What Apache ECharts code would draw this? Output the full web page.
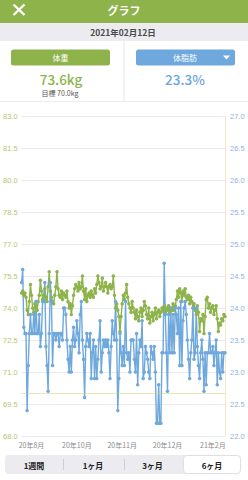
<!DOCTYPE html>
<html><head><meta charset="utf-8">
<script src="https://cdn.jsdelivr.net/npm/echarts@6/dist/echarts.min.js"></script>
<style>html,body{margin:0;padding:0;background:#fff;}#c{width:248px;height:480px;}</style>
</head><body><div id="c"></div>
<script>
// ---- data ----
const weightKg = [
74.7,74.8,74.6,74.7,74.5,73.9,73.7,74.3,75.1,74.6,
74.0,73.8,74.2,74.1,73.9,74.3,74.6,75.3,74.8,74.4,
74.6,74.9,74.5,74.3,75.0,75.7,74.8,74.5,74.3,74.2,
74.6,75.0,75.7,74.9,74.6,74.5,74.8,74.4,74.7,74.6,
74.5,74.8,74.3,74.0,74.2,73.7,74.1,74.6,74.9,75.1,
75.0,74.8,75.2,74.9,75.0,75.5,74.8,74.4,74.9,74.3,
74.6,74.7,74.5,74.8,74.6,74.5,74.9,74.7,75.1,75.5,
75.2,74.9,75.0,75.4,74.8,75.0,75.2,75.0,74.7,75.0,
75.1,74.9,75.0,75.5,74.6,74.0,74.2,73.9,73.6,72.9,
73.6,74.2,74.6,74.4,74.7,75.1,74.5,74.2,74.0,73.8,
74.3,74.0,73.8,73.5,73.9,73.6,73.4,73.8,74.0,73.6,
73.9,74.3,74.1,73.7,73.5,74.0,73.3,73.6,73.8,73.4,
73.7,74.0,73.5,73.8,73.9,73.6,73.8,74.0,73.9,74.1,
73.8,74.0,73.9,74.1,73.8,74.0,73.9,74.2,73.9,74.1,
74.4,74.8,74.5,74.9,74.7,74.3,74.8,74.6,74.9,74.5,
74.4,74.6,74.2,74.5,74.3,74.0,74.2,73.9,73.7,74.1,
73.8,72.9,73.5,73.4,73.7,72.8,73.6,74.4,74.5,74.0,
74.2,73.8,74.0,74.1,73.7,73.9,74.1,73.5,72.9,73.3,
73.2,73.5,73.4,73.7,73.6];
const bodyFatPct = [
24.4,24.6,23.7,23.6,23.6,22.4,23.1,23.6,23.9,23.6,
23.6,23.9,23.6,24.1,23.6,23.6,23.9,23.4,23.6,24.1,
24.1,24.4,23.4,23.1,22.7,23.6,24.4,24.1,23.1,23.6,
23.6,23.5,23.6,23.6,23.4,23.6,23.6,23.5,24.0,24.0,
23.9,23.5,23.2,23.0,23.4,23.0,23.5,23.7,23.4,23.5,
23.8,23.6,23.3,23.9,24.1,23.5,23.2,22.6,23.4,23.6,
23.5,23.4,23.6,22.9,23.3,23.5,22.9,23.4,22.9,23.2,
23.5,23.8,23.0,23.3,23.5,23.4,23.5,23.4,23.5,23.3,
22.9,23.4,23.8,23.6,23.5,24.1,23.5,22.4,22.9,23.6,
23.3,23.1,23.4,23.1,24.1,23.3,23.2,23.3,23.0,23.5,
23.5,23.5,23.2,23.0,23.6,22.8,23.3,23.5,23.4,23.8,
22.9,23.0,23.4,23.3,23.2,23.0,22.9,23.4,23.3,23.2,
23.4,23.0,22.2,22.2,22.8,22.2,22.2,23.3,23.3,24.7,
23.9,23.3,22.7,23.9,23.3,24.0,23.3,23.9,23.3,24.0,
23.9,23.6,24.0,23.1,24.1,23.1,23.8,24.0,24.1,23.9,
23.5,23.2,22.9,23.3,23.5,24.0,23.2,23.3,24.0,23.4,
23.1,22.9,23.3,23.5,23.2,22.7,23.3,22.8,23.3,23.3,
23.6,23.3,23.3,23.4,23.1,23.3,23.5,22.8,23.3,23.0,
22.9,23.3,23.0,23.3,23.3];
const xTickIndex = [9, 50, 91, 132, 173];
const xTickLabels = ['20年8月', '20年10月', '20年11月', '20年12月', '21年2月'];
const weightAxis = {min: 68.0, max: 83.0, step: 1.5};
const fatAxis = {min: 22.0, max: 27.0, step: 0.5};
const goalWeight = 70.0;
const dateText = '2021年02月12日';
const latestWeight = '73.6kg';
const goalText = '目標 70.0kg';
const latestFat = '23.3%';
const rangeButtons = ['1週間', '1ヶ月', '3ヶ月', '6ヶ月'];

// ---- chart ----
const GREEN = '#8db34a', BLUE = '#6ea8dc';
const FONT = '"Noto Sans CJK JP", "Noto Sans", sans-serif';
const days = weightKg.map((_, i) => String(i));
const chart = echarts.init(document.getElementById('c'), null, {renderer: 'svg'});

const txt = (x, y, s, size, fill, weight) => ({
  type: 'text', x: x, y: y, silent: true,
  style: {text: s, fontSize: size, fill: fill, fontFamily: FONT, fontWeight: weight || 'normal', textAlign: 'center', textVerticalAlign: 'middle'}
});
const btnCenters = [34, 93, 152.5, 212];

const graphic = [
  {type: 'rect', shape: {x: 0, y: 0, width: 248, height: 23}, style: {fill: GREEN}},
  {type: 'line', shape: {x1: 13.5, y1: 4.5, x2: 24.5, y2: 15}, style: {stroke: '#fff', lineWidth: 2.4}},
  {type: 'line', shape: {x1: 24.5, y1: 4.5, x2: 13.5, y2: 15}, style: {stroke: '#fff', lineWidth: 2.4}},
  txt(124, 10, 'グラフ', 11, '#fff', 'bold'),
  {type: 'rect', shape: {x: 0, y: 23, width: 248, height: 18}, style: {fill: '#ebebf0'}},
  txt(123, 32, dateText, 8.5, '#4a4a4a', 'bold'),
  {type: 'line', shape: {x1: 124, y1: 41, x2: 124, y2: 101}, style: {stroke: '#e6e6e6', lineWidth: 1}},
  {type: 'line', shape: {x1: 0, y1: 101.5, x2: 248, y2: 101.5}, style: {stroke: '#ececec', lineWidth: 1}},
  {type: 'rect', shape: {x: 11, y: 49.5, width: 99, height: 16, r: 2.5}, style: {fill: GREEN}},
  txt(60.5, 57.5, '体重', 8, '#fff'),
  txt(61, 79, latestWeight, 13.5, GREEN, 500),
  txt(60, 92.5, goalText, 7, '#555'),
  {type: 'rect', shape: {x: 136, y: 49.5, width: 99, height: 16, r: 2.5}, style: {fill: BLUE}},
  txt(185, 57.5, '体脂肪', 8, '#fff'),
  {type: 'polygon', shape: {points: [[223, 55.5], [230, 55.5], [226.5, 59.5]]}, style: {fill: '#fff'}},
  txt(185, 79, latestFat, 13.5, BLUE, 500),
  {type: 'rect', shape: {x: 5, y: 455, width: 236, height: 19, r: 4}, style: {fill: '#ececf0'}},
  {type: 'rect', shape: {x: 184, y: 456, width: 56, height: 17, r: 4}, style: {fill: '#fff', shadowBlur: 2, shadowColor: 'rgba(0,0,0,0.15)'}},
  {type: 'line', shape: {x1: 63.5, y1: 459, x2: 63.5, y2: 470}, style: {stroke: '#cfcfd4', lineWidth: 1}},
  {type: 'line', shape: {x1: 124.5, y1: 459, x2: 124.5, y2: 470}, style: {stroke: '#cfcfd4', lineWidth: 1}}
].concat(rangeButtons.map((b, i) => txt(btnCenters[i], 465, b, 8, '#222', 'bold')));

chart.setOption({
  animation: false,
  backgroundColor: '#fff',
  textStyle: {fontFamily: FONT},
  grid: {left: 20, right: 23, top: 116, bottom: 44},
  xAxis: {
    type: 'category', boundaryGap: false, data: days,
    axisLine: {show: false}, axisTick: {show: false}, splitLine: {show: false},
    axisLabel: {
      interval: (i) => xTickIndex.indexOf(i) >= 0,
      formatter: (v, i) => xTickLabels[xTickIndex.indexOf(Number(v))] || '',
      fontSize: 7, color: '#8a8a8a', margin: 5, fontFamily: FONT
    }
  },
  yAxis: [
    {type: 'value', position: 'left', min: weightAxis.min, max: weightAxis.max, interval: weightAxis.step,
     axisLine: {show: false}, axisTick: {show: false},
     splitLine: {show: true, lineStyle: {color: '#e7eaf0', width: 1}},
     axisLabel: {formatter: (v) => v.toFixed(1), fontSize: 7.5, color: '#b9c46c', margin: 4, fontFamily: 'Liberation Sans, sans-serif'}},
    {type: 'value', position: 'right', min: fatAxis.min, max: fatAxis.max, interval: fatAxis.step,
     axisLine: {show: true, lineStyle: {color: '#f6e7cb', width: 1}}, axisTick: {show: false},
     splitLine: {show: false},
     axisLabel: {formatter: (v) => v.toFixed(1), fontSize: 7.5, color: '#8db6dc', margin: 5, fontFamily: 'Liberation Sans, sans-serif'}}
  ],
  series: [
    {type: 'line', name: '体重', yAxisIndex: 0, data: weightKg, symbol: 'circle', symbolSize: 3.5, showSymbol: true, showAllSymbol: true,
     lineStyle: {color: GREEN, width: 1.4}, itemStyle: {color: GREEN},
     markLine: {silent: true, symbol: 'none', label: {show: false},
       lineStyle: {color: '#c9d36a', type: 'dotted', width: 1}, data: [{yAxis: goalWeight}]}},
    {type: 'line', name: '体脂肪', yAxisIndex: 1, data: bodyFatPct, symbol: 'circle', symbolSize: 3.5, showSymbol: true, showAllSymbol: true,
     lineStyle: {color: BLUE, width: 1.4}, itemStyle: {color: BLUE}}
  ],
  graphic: graphic
});
</script></body></html>
